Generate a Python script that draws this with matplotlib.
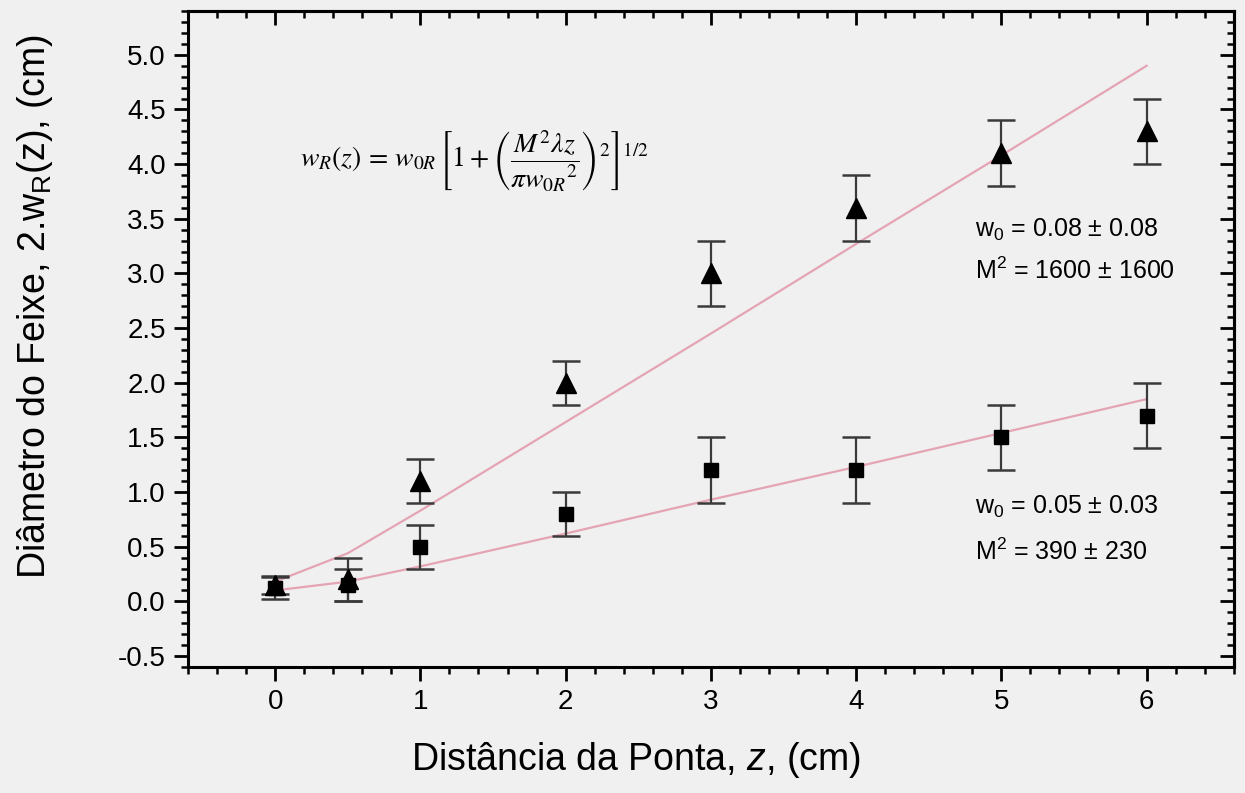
import numpy as np
import matplotlib
matplotlib.use("Agg")
import matplotlib.pyplot as plt
from matplotlib.ticker import MultipleLocator, FormatStrFormatter

# measured points (distance z in cm, beam diameter in cm)
z = [0, 0.5, 1, 2, 3, 4, 5, 6]
tri_d = [0.15, 0.20, 1.1, 2.0, 3.0, 3.6, 4.1, 4.3]
tri_err = [0.08, 0.20, 0.2, 0.2, 0.3, 0.3, 0.3, 0.3]
sq_d = [0.12, 0.15, 0.5, 0.8, 1.2, 1.2, 1.5, 1.7]
sq_err = [0.10, 0.15, 0.2, 0.2, 0.3, 0.3, 0.3, 0.3]

# fit curves
fit_z = [0, 0.5, 1, 2, 3, 4, 5, 6]
fit_tri = [0.18, 0.44, 0.83, 1.64, 2.45, 3.27, 4.08, 4.90]
fit_sq = [0.10, 0.18, 0.32, 0.62, 0.93, 1.23, 1.54, 1.85]

bg = "#f0f0f0"
plt.rcParams["font.family"] = ["Liberation Sans", "DejaVu Sans"]
plt.rcParams["mathtext.fontset"] = "custom"
plt.rcParams["mathtext.rm"] = "Liberation Sans"
plt.rcParams["mathtext.it"] = "Liberation Sans:italic"

fig = plt.figure(figsize=(12.45, 7.93), dpi=100, facecolor=bg)
ax = fig.add_axes([0.151, 0.159, 0.840, 0.827], facecolor=bg)

ax.plot(fit_z, fit_tri, color="#e4a4b4", lw=1.6, zorder=1)
ax.plot(fit_z, fit_sq, color="#e4a4b4", lw=1.6, zorder=1)

ax.errorbar(z, tri_d, yerr=tri_err, fmt="^", color="black", ms=15,
            ecolor="#3a3a3a", elinewidth=1.6, capsize=10, capthick=1.8, zorder=3)
ax.errorbar(z, sq_d, yerr=sq_err, fmt="s", color="black", ms=10,
            ecolor="#3a3a3a", elinewidth=1.6, capsize=10, capthick=1.8, zorder=3)

ax.set_xlim(-0.6, 6.6)
ax.set_ylim(-0.6, 5.4)
ax.xaxis.set_major_locator(MultipleLocator(1))
ax.xaxis.set_minor_locator(MultipleLocator(0.2))
ax.yaxis.set_major_locator(MultipleLocator(0.5))
ax.yaxis.set_minor_locator(MultipleLocator(0.1))
ax.yaxis.set_major_formatter(FormatStrFormatter("%.1f"))

for s in ax.spines.values():
    s.set_linewidth(2.2)
ax.tick_params(which="major", direction="out", length=10, width=2, labelsize=20, pad=6)
ax.tick_params(which="minor", direction="out", length=5, width=1.8)

# inward ticks on top and right
top = ax.secondary_xaxis("top")
top.xaxis.set_major_locator(MultipleLocator(1))
top.xaxis.set_minor_locator(MultipleLocator(0.2))
top.tick_params(which="major", direction="in", length=10, width=2, labeltop=False)
top.tick_params(which="minor", direction="in", length=5, width=1.8)
right = ax.secondary_yaxis("right")
right.yaxis.set_major_locator(MultipleLocator(0.5))
right.yaxis.set_minor_locator(MultipleLocator(0.1))
right.tick_params(which="major", direction="in", length=10, width=2, labelright=False)
right.tick_params(which="minor", direction="in", length=5, width=1.8)
for sec in (top, right):
    for s in sec.spines.values():
        s.set_linewidth(2.2)

ax.set_xlabel("Distância da Ponta, $z$, (cm)", fontsize=27, va="center", ha="center")
ax.xaxis.set_label_coords(0.428, -0.142)
ax.set_ylabel(r"Diâmetro do Feixe, 2.w$_\mathregular{R}$(z), (cm)", fontsize=27,
              va="center", ha="center")
ax.yaxis.set_label_coords(-0.146, 0.55)

ax.text(0.17, 4.02,
        r"$w_R(z)\,=\,w_{0R}\,\left[1+\left(\dfrac{M^2\lambda z}{\pi w_{0R}{}^2}\right)^2\right]^{1/2}$",
        fontsize=20, math_fontfamily="stix", va="center", ha="left")

ax.text(4.82, 3.40, r"w$_0$ = 0.08 ± 0.08", fontsize=18, va="center")
ax.text(4.82, 3.02, r"M$^2$ = 1600 ± 1600", fontsize=18, va="center")
ax.text(4.82, 0.86, r"w$_0$ = 0.05 ± 0.03", fontsize=18, va="center")
ax.text(4.82, 0.45, r"M$^2$ = 390 ± 230", fontsize=18, va="center")

fig.savefig("out.png", dpi=100, facecolor=bg)
